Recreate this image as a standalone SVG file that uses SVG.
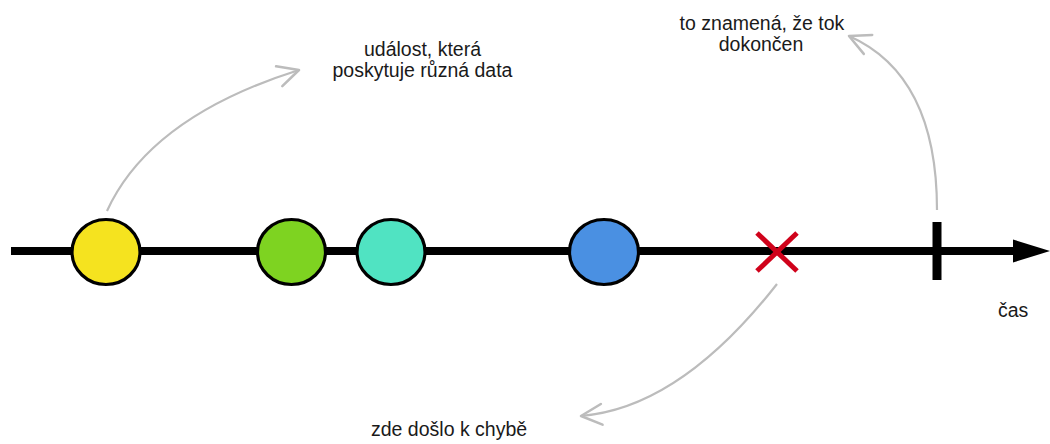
<svg xmlns="http://www.w3.org/2000/svg" width="1050" height="444" viewBox="0 0 1050 444">
  <style>
    .label { font-family: "Liberation Sans", Arial, Helvetica, sans-serif; font-size: 19.5px; fill: #1a1a1a; }
    .event { stroke: #000; stroke-width: 3.2; }
    .note { fill: none; stroke: #bcbcbc; stroke-width: 2.2; }
    .axis { stroke: #000; stroke-width: 8; }
  </style>
  <defs>
    <marker id="open-arrow" markerUnits="userSpaceOnUse" markerWidth="30" markerHeight="30" refX="0" refY="0" viewBox="-22 -12 26 24" orient="auto" overflow="visible">
      <path d="M -18 -9 L 0 0 L -18 9" fill="none" stroke="#bcbcbc" stroke-width="2.2" stroke-linecap="round" stroke-linejoin="round"/>
    </marker>
  </defs>

  <rect width="1050" height="444" fill="#ffffff"/>

  <!-- time axis -->
  <g id="timeline">
    <line class="axis" x1="11" y1="251" x2="1016" y2="251"/>
    <polygon points="1013,239.5 1050,251 1013,262.5" fill="#000"/>
  </g>

  <!-- annotation arrows -->
  <g id="connectors">
    <path class="note" d="M 107 211 Q 150 117 299 70" marker-end="url(#open-arrow)"/>
    <path class="note" d="M 937 210 Q 937 75 849 36" marker-end="url(#open-arrow)"/>
    <path class="note" d="M 777 284 Q 680 408 581 416" marker-end="url(#open-arrow)"/>
  </g>

  <!-- emitted values -->
  <g id="event-yellow">
    <ellipse class="event" cx="106" cy="252" rx="34" ry="32.5" fill="#f5e31f"/>
  </g>
  <g id="event-green">
    <ellipse class="event" cx="291.5" cy="252" rx="34" ry="32.5" fill="#7ed321"/>
  </g>
  <g id="event-teal">
    <ellipse class="event" cx="391" cy="252" rx="34" ry="32.5" fill="#50e3c2"/>
  </g>
  <g id="event-blue">
    <ellipse class="event" cx="604" cy="252" rx="34.5" ry="32.5" fill="#4a90e2"/>
  </g>

  <!-- error -->
  <g id="error">
    <line x1="757" y1="233" x2="797" y2="271" stroke="#d0021b" stroke-width="5"/>
    <line x1="757" y1="271" x2="797" y2="233" stroke="#d0021b" stroke-width="5"/>
  </g>

  <!-- completion -->
  <g id="complete">
    <line x1="937" y1="222" x2="937" y2="280" stroke="#000" stroke-width="9"/>
  </g>

  <!-- labels -->
  <g id="label-event">
    <text class="label" x="422.5" y="56" text-anchor="middle">událost, která</text>
    <text class="label" x="422.5" y="77" text-anchor="middle">poskytuje různá data</text>
  </g>
  <g id="label-complete">
    <text class="label" x="762" y="29.5" text-anchor="middle">to znamená, že tok</text>
    <text class="label" x="761" y="50.5" text-anchor="middle">dokončen</text>
  </g>
  <g id="label-error">
    <text class="label" x="371" y="436">zde došlo k chybě</text>
  </g>
  <g id="label-time">
    <text class="label" x="998" y="317">čas</text>
  </g>
</svg>
